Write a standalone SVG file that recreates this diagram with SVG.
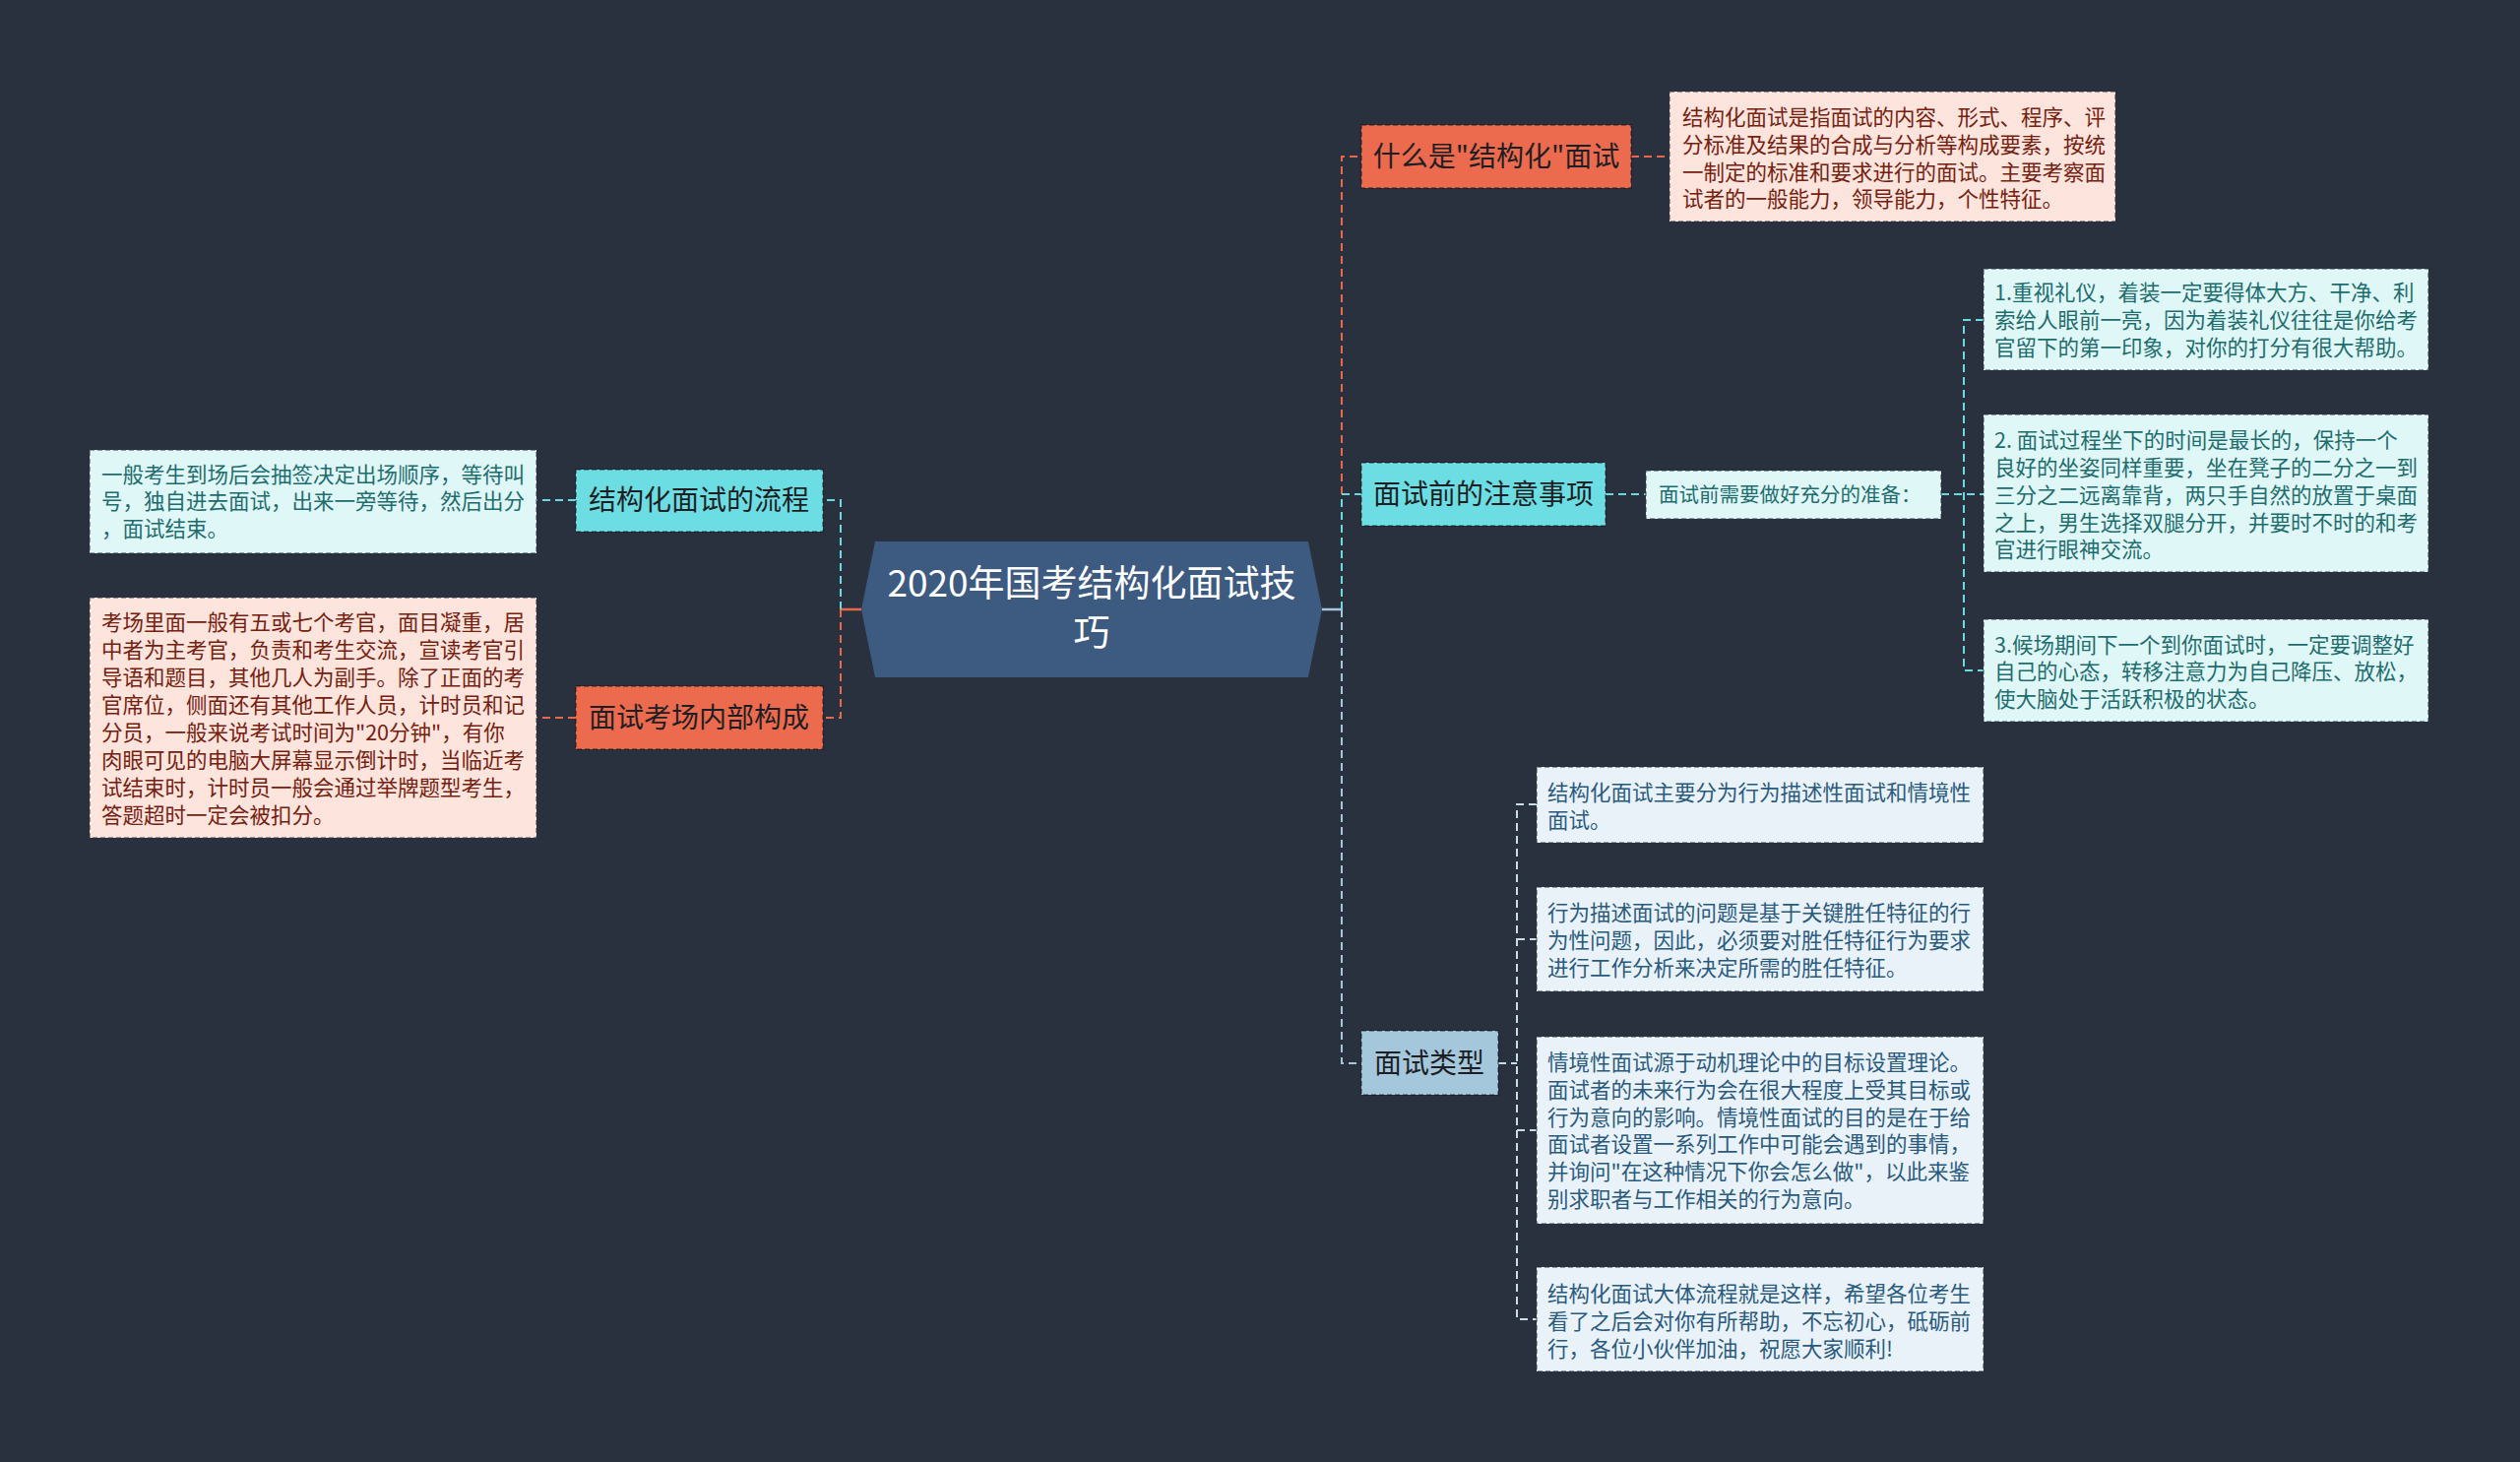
<svg xmlns="http://www.w3.org/2000/svg" width="2560" height="1485" viewBox="0 0 2560 1485">
<style>
.bg{fill:#29313f}
.t{font-family:"Noto Sans CJK SC","Noto Sans",sans-serif}
.main{font-size:28px;fill:#1d1f24;text-anchor:middle}
.leaf{font-size:21.5px}
.c{fill:none;stroke-width:2;stroke-dasharray:8 5}
.o{stroke:#e9684a}
.cy{stroke:#6ad9e0}
.bl{stroke:#a5c7dc}
.bl2{stroke:#c9dce8}
.nb{stroke:rgba(0,0,0,0.45);stroke-width:1.5;stroke-dasharray:5 3}
.lb{stroke:rgba(40,50,64,0.6);stroke-width:1.5;stroke-dasharray:5 3}
</style>
<rect class="bg" x="0" y="0" width="2560" height="1485"/>

<g id="connectors">
  <line x1="875" y1="619" x2="854" y2="619" stroke="#e9684a" stroke-width="2.5"/>
  <path class="c cy" d="M854,619 V508 H836"/>
  <path class="c o" d="M854,619 V729 H836"/>
  <path class="c cy" d="M585,508 H545"/>
  <path class="c o" d="M585,729 H545"/>

  <line x1="1343" y1="619" x2="1363" y2="619" stroke="#a5c7dc" stroke-width="2.5"/>
  <path class="c o" d="M1363,619 V159 H1383"/>
  <path class="c cy" d="M1363,619 V502 H1383"/>
  <path class="c bl" d="M1363,619 V1080 H1383"/>
  <path class="c o" d="M1657,159 H1696"/>
  <path class="c cy" d="M1631,502 H1672"/>
  <path class="c cy" d="M1972,502 H2015"/>
  <path class="c cy" d="M2015,325 H1995 V681 H2015"/>
  <path class="c bl2" d="M1522,1080 H1541"/>
  <path class="c bl2" d="M1561,817 H1541 V1340 H1561"/>
  <path class="c bl2" d="M1541,954 H1561"/>
  <path class="c bl2" d="M1541,1148 H1561"/>
</g>

<g id="center">
  <polygon points="875,619 889,550 1329,550 1343,619 1329,688 889,688" fill="#3d5a80"/>
  <text class="t" x="1109" y="606" font-size="37" fill="#ffffff" text-anchor="middle">2020年国考结构化面试技</text>
  <text class="t" x="1109" y="656" font-size="37" fill="#ffffff" text-anchor="middle">巧</text>
</g>

<g id="n-flow">
  <rect x="585" y="477" width="251" height="63" fill="#6cdde3" class="nb"/>
  <text class="t main" x="710" y="518">结构化面试的流程</text>
</g>
<g id="n-flow-leaf">
  <rect x="91" y="457" width="454" height="105" fill="#e0f7f8" class="lb"/>
  <text class="t leaf" fill="#1e6d6e" x="103">
    <tspan x="103" y="490">一般考生到场后会抽签决定出场顺序，等待叫</tspan>
    <tspan x="103" y="517">号，独自进去面试，出来一旁等待，然后出分</tspan>
    <tspan x="103" y="545">，面试结束。</tspan>
  </text>
</g>

<g id="n-room">
  <rect x="585" y="697" width="251" height="64" fill="#ec6a4d" class="nb"/>
  <text class="t main" x="710" y="739">面试考场内部构成</text>
</g>
<g id="n-room-leaf">
  <rect x="91" y="607" width="454" height="244" fill="#fde4dd" class="lb"/>
  <text class="t leaf" fill="#76210f">
    <tspan x="103" y="640">考场里面一般有五或七个考官，面目凝重，居</tspan>
    <tspan x="103" y="668">中者为主考官，负责和考生交流，宣读考官引</tspan>
    <tspan x="103" y="696">导语和题目，其他几人为副手。除了正面的考</tspan>
    <tspan x="103" y="724">官席位，侧面还有其他工作人员，计时员和记</tspan>
    <tspan x="103" y="752">分员，一般来说考试时间为"20分钟"，有你</tspan>
    <tspan x="103" y="780">肉眼可见的电脑大屏幕显示倒计时，当临近考</tspan>
    <tspan x="103" y="808">试结束时，计时员一般会通过举牌题型考生，</tspan>
    <tspan x="103" y="836">答题超时一定会被扣分。</tspan>
  </text>
</g>

<g id="n-what">
  <rect x="1383" y="127" width="274" height="64" fill="#ec6a4d" class="nb"/>
  <text class="t main" x="1520" y="169">什么是"结构化"面试</text>
</g>
<g id="n-what-leaf">
  <rect x="1696" y="93" width="453" height="132" fill="#fde4dd" class="lb"/>
  <text class="t leaf" fill="#76210f">
    <tspan x="1709" y="127">结构化面试是指面试的内容、形式、程序、评</tspan>
    <tspan x="1709" y="155">分标准及结果的合成与分析等构成要素，按统</tspan>
    <tspan x="1709" y="183">一制定的标准和要求进行的面试。主要考察面</tspan>
    <tspan x="1709" y="210">试者的一般能力，领导能力，个性特征。</tspan>
  </text>
</g>

<g id="n-before">
  <rect x="1383" y="470" width="248" height="64" fill="#6cdde3" class="nb"/>
  <text class="t main" x="1507" y="512">面试前的注意事项</text>
</g>
<g id="n-prep">
  <rect x="1672" y="478" width="300" height="49" fill="#e0f7f8" class="lb"/>
  <text class="t" font-size="20.5" fill="#1e6d6e" x="1685" y="510">面试前需要做好充分的准备：</text>
</g>
<g id="n-tip1">
  <rect x="2015" y="273" width="452" height="103" fill="#e0f7f8" class="lb"/>
  <text class="t leaf" fill="#1e6d6e">
    <tspan x="2026" y="305">1.重视礼仪，着装一定要得体大方、干净、利</tspan>
    <tspan x="2026" y="333">索给人眼前一亮，因为着装礼仪往往是你给考</tspan>
    <tspan x="2026" y="361">官留下的第一印象，对你的打分有很大帮助。</tspan>
  </text>
</g>
<g id="n-tip2">
  <rect x="2015" y="421" width="452" height="160" fill="#e0f7f8" class="lb"/>
  <text class="t leaf" fill="#1e6d6e">
    <tspan x="2026" y="455">2. 面试过程坐下的时间是最长的，保持一个</tspan>
    <tspan x="2026" y="483">良好的坐姿同样重要，坐在凳子的二分之一到</tspan>
    <tspan x="2026" y="511">三分之二远离靠背，两只手自然的放置于桌面</tspan>
    <tspan x="2026" y="539">之上，男生选择双腿分开，并要时不时的和考</tspan>
    <tspan x="2026" y="566">官进行眼神交流。</tspan>
  </text>
</g>
<g id="n-tip3">
  <rect x="2015" y="629" width="452" height="104" fill="#e0f7f8" class="lb"/>
  <text class="t leaf" fill="#1e6d6e">
    <tspan x="2026" y="663">3.候场期间下一个到你面试时，一定要调整好</tspan>
    <tspan x="2026" y="690">自己的心态，转移注意力为自己降压、放松，</tspan>
    <tspan x="2026" y="718">使大脑处于活跃积极的状态。</tspan>
  </text>
</g>

<g id="n-types">
  <rect x="1383" y="1047" width="139" height="65" fill="#a5c7dc" class="nb"/>
  <text class="t main" x="1452" y="1090">面试类型</text>
</g>
<g id="n-type1">
  <rect x="1561" y="779" width="454" height="77" fill="#e9f2f8" class="lb"/>
  <text class="t leaf" fill="#2a5a7e">
    <tspan x="1572" y="813">结构化面试主要分为行为描述性面试和情境性</tspan>
    <tspan x="1572" y="841">面试。</tspan>
  </text>
</g>
<g id="n-type2">
  <rect x="1561" y="901" width="454" height="106" fill="#e9f2f8" class="lb"/>
  <text class="t leaf" fill="#2a5a7e">
    <tspan x="1572" y="935">行为描述面试的问题是基于关键胜任特征的行</tspan>
    <tspan x="1572" y="963">为性问题，因此，必须要对胜任特征行为要求</tspan>
    <tspan x="1572" y="991">进行工作分析来决定所需的胜任特征。</tspan>
  </text>
</g>
<g id="n-type3">
  <rect x="1561" y="1053" width="454" height="190" fill="#e9f2f8" class="lb"/>
  <text class="t leaf" fill="#2a5a7e">
    <tspan x="1572" y="1087">情境性面试源于动机理论中的目标设置理论。</tspan>
    <tspan x="1572" y="1115">面试者的未来行为会在很大程度上受其目标或</tspan>
    <tspan x="1572" y="1143">行为意向的影响。情境性面试的目的是在于给</tspan>
    <tspan x="1572" y="1170">面试者设置一系列工作中可能会遇到的事情，</tspan>
    <tspan x="1572" y="1198">并询问"在这种情况下你会怎么做"，以此来鉴</tspan>
    <tspan x="1572" y="1226">别求职者与工作相关的行为意向。</tspan>
  </text>
</g>
<g id="n-type4">
  <rect x="1561" y="1287" width="454" height="106" fill="#e9f2f8" class="lb"/>
  <text class="t leaf" fill="#2a5a7e">
    <tspan x="1572" y="1322">结构化面试大体流程就是这样，希望各位考生</tspan>
    <tspan x="1572" y="1350">看了之后会对你有所帮助，不忘初心，砥砺前</tspan>
    <tspan x="1572" y="1378">行，各位小伙伴加油，祝愿大家顺利!</tspan>
  </text>
</g>
</svg>
